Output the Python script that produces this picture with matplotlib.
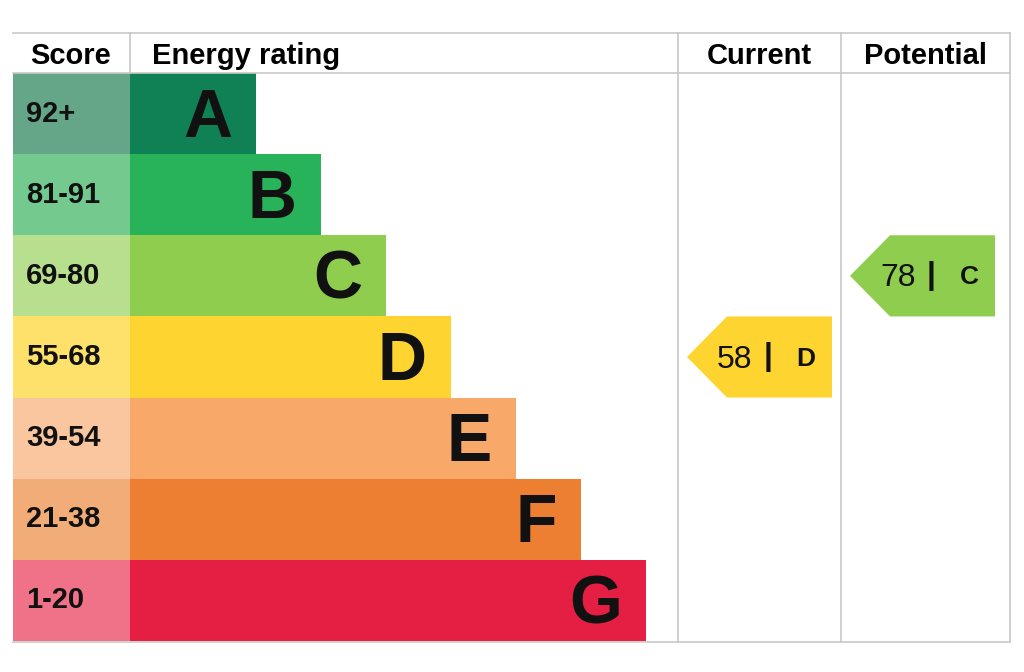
import matplotlib.pyplot as plt
from matplotlib.patches import Rectangle, Polygon

plt.rcParams['font.family'] = ['Liberation Sans', 'DejaVu Sans']

# EPC bands, top to bottom
bands = ['A', 'B', 'C', 'D', 'E', 'F', 'G']
score_labels = ['92+', '81-91', '69-80', '55-68', '39-54', '21-38', '1-20']
band_low = [92, 81, 69, 55, 39, 21, 1]
bar_colors = ['#0f8155', '#28b35b', '#8fcd4f', '#fed431', '#f8a96a', '#ed7f32', '#e51e43']
score_colors = ['#66a688', '#74ca8e', '#b8df8d', '#fee16b', '#fac69f', '#f2ac77', '#ef7289']

headers = ['Score', 'Energy rating', 'Current', 'Potential']
current_score = 58
potential_score = 78

# layout in pixels
W, H = 1024, 672
left, right = 13, 1010
top, head_bottom, bottom = 33, 73, 642
score_right = 130
cur_left, pot_left = 678, 841
row_h = (bottom - 1 - head_bottom) / len(bands)
bar_base = 256
bar_step = 65
grid = '#c8c8c8'


def band_of(score):
    for i, lo in enumerate(band_low):
        if score >= lo:
            return i
    return len(bands) - 1


fig = plt.figure(figsize=(W / 100, H / 100), dpi=100)
ax = fig.add_axes([0, 0, 1, 1])
ax.set_xlim(0, W)
ax.set_ylim(H, 0)
ax.axis('off')

# grid lines
ax.plot([left, right], [top, top], color=grid, lw=1.2)
ax.plot([left, right], [head_bottom, head_bottom], color=grid, lw=1.2)
ax.plot([left, right], [bottom, bottom], color=grid, lw=1.2)
ax.plot([score_right, score_right], [top, head_bottom], color=grid, lw=1.2)
for x in [cur_left, pot_left, right]:
    ax.plot([x, x], [top, bottom], color=grid, lw=1.2)

# headers
hy = 56
ax.text(71, hy, headers[0], fontsize=21, fontweight='bold', ha='center', va='center')
ax.text(152, hy, headers[1], fontsize=21, fontweight='bold', ha='left', va='center')
ax.text((cur_left + pot_left) / 2, hy, headers[2], fontsize=21, fontweight='bold', ha='center', va='center')
ax.text((pot_left + right) / 2, hy, headers[3], fontsize=21, fontweight='bold', ha='center', va='center')

# band rows
for i, b in enumerate(bands):
    y0 = head_bottom + i * row_h
    ym = y0 + row_h / 2
    bar_end = bar_base + i * bar_step
    ax.add_patch(Rectangle((left, y0), score_right - left, row_h, color=score_colors[i], lw=0))
    ax.add_patch(Rectangle((score_right, y0), bar_end - score_right, row_h, color=bar_colors[i], lw=0))
    ax.text(26, ym - 3, score_labels[i], fontsize=21, fontweight='bold', ha='left', va='center_baseline',
            color='#111111')
    ax.text(bar_end - 24, ym - 2, b, fontsize=49, fontweight='bold', ha='right', va='center_baseline',
            color='#111111')


def draw_arrow(col_left, score):
    i = band_of(score)
    y0 = head_bottom + i * row_h
    y1 = y0 + row_h
    ym = (y0 + y1) / 2
    pts = [(col_left + 9, ym), (col_left + 49, y0), (col_left + 154, y0),
           (col_left + 154, y1), (col_left + 49, y1)]
    ax.add_patch(Polygon(pts, closed=True, color=bar_colors[i], lw=0))
    ax.text(col_left + 57, ym - 1, str(score), fontsize=23, ha='center', va='center_baseline', color='#111111')
    ax.text(col_left + 90, ym, '|', fontsize=23, fontweight='bold', ha='center', va='center', color='#111111')
    ax.text(col_left + 128, ym - 1, bands[i], fontsize=19, fontweight='bold', ha='center',
            va='center_baseline', color='#111111')


draw_arrow(cur_left, current_score)
draw_arrow(pot_left, potential_score)

fig.savefig('out.png', dpi=100)
